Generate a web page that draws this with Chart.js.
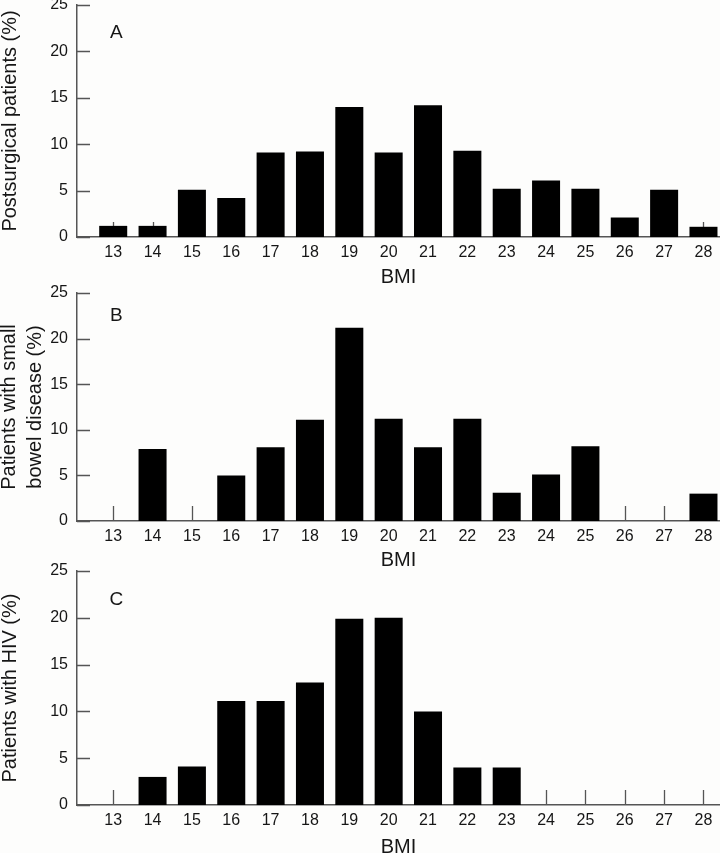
<!doctype html>
<html lang="en">
<head>
    <meta charset="utf-8">
    <script src="https://cdn.jsdelivr.net/npm/chart.js@4.4.1/dist/chart.umd.min.js"></script>
    <title>BMI distribution</title>
</head>
<body>

<canvas id="chartA" width="720" height="300"></canvas>
<canvas id="chartB" width="720" height="293"></canvas>
<canvas id="chartC" width="720" height="300"></canvas>

<script>
    // BMI categories and percentages
    const bmi = [13, 14, 15, 16, 17, 18, 19, 20, 21, 22, 23, 24, 25, 26, 27, 28];
    const postsurgical = [1.2, 1.2, 5.1, 4.2, 9.1, 9.2, 14, 9.1, 14.2, 9.3, 5.2, 6.1, 5.2, 2.1, 5.1, 1.1];
    const smallBowel = [0, 7.9, 0, 5, 8.1, 11.1, 21.2, 11.2, 8.1, 11.2, 3.1, 5.1, 8.2, 0, 0, 3];
    const hiv = [0, 3, 4.1, 11.1, 11.1, 13.1, 19.9, 20, 10, 4, 4, 0, 0, 0, 0, 0];
    const yTicks = [0, 5, 10, 15, 20, 25];

    const FONT = "'Liberation Sans', Arial, Helvetica, sans-serif";
    const AXIS = '#555';
    const TEXT = '#161616';

    // inward tick marks + panel letter
    const panelPlugin = {
        id: 'panel',
        beforeDatasetsDraw(chart, args, opts) {
            const ctx = chart.ctx;
            const x = chart.scales.x, y = chart.scales.y, area = chart.chartArea;
            ctx.save();
            ctx.strokeStyle = AXIS;
            ctx.lineWidth = 1.3;
            ctx.beginPath();
            x.ticks.forEach(t => {
                const px = Math.round(x.getPixelForValue(t.value)) + 0.5;
                ctx.moveTo(px, area.bottom);
                ctx.lineTo(px, area.bottom - 15);
            });
            y.ticks.forEach(t => {
                const py = Math.round(y.getPixelForValue(t.value)) + 0.5;
                ctx.moveTo(area.left, py);
                ctx.lineTo(area.left + 13, py);
            });
            ctx.stroke();
            ctx.restore();
        },
        afterDatasetsDraw(chart, args, opts) {
            const ctx = chart.ctx;
            ctx.save();
            ctx.fillStyle = TEXT;
            ctx.font = '19px ' + FONT;
            ctx.textAlign = 'center';
            ctx.textBaseline = 'middle';
            ctx.fillText(opts.letter, chart.scales.x.getPixelForValue(13.08), chart.scales.y.getPixelForValue(opts.letterY));
            ctx.restore();
        }
    };

    function makeChart(id, values, title, letter, letterY, padTop, xHeight, titleLineHeight, titlePad) {
        return new Chart(document.getElementById(id), {
            type: 'bar',
            data: {
                datasets: [{
                    data: bmi.map((b, i) => ({x: b, y: values[i]})),
                    backgroundColor: '#000',
                    borderWidth: 0,
                    barPercentage: 0.712,
                    categoryPercentage: 1
                }]
            },
            options: {
                responsive: false,
                animation: false,
                events: [],
                layout: {padding: {top: padTop, left: 0, right: 0, bottom: 0}},
                plugins: {
                    legend: {display: false},
                    tooltip: {enabled: false},
                    panel: {letter: letter, letterY: letterY}
                },
                scales: {
                    x: {
                        type: 'linear',
                        offset: false,
                        min: 12.08,
                        max: 28.42,
                        afterBuildTicks: s => { s.ticks = bmi.map(v => ({value: v})); },
                        afterFit: s => { s.height = xHeight; s.paddingLeft = 0; s.paddingRight = 0; },
                        grid: {display: false, drawTicks: false, offset: false},
                        border: {color: AXIS, width: 1.5},
                        ticks: {
                            padding: 6,
                            color: TEXT,
                            font: {family: FONT, size: 16},
                            maxRotation: 0,
                            autoSkip: false
                        },
                        title: {
                            display: true,
                            text: 'BMI',
                            color: TEXT,
                            font: {family: FONT, size: 20, lineHeight: 1.2},
                            padding: {top: 0, bottom: 1}
                        }
                    },
                    y: {
                        min: 0,
                        max: 25,
                        afterBuildTicks: s => { s.ticks = yTicks.map(v => ({value: v})); },
                        afterFit: s => { s.width = 77; s.paddingTop = 0; s.paddingBottom = 0; },
                        grid: {display: false, drawTicks: false},
                        border: {color: AXIS, width: 1.5},
                        ticks: {
                            padding: 9,
                            color: TEXT,
                            font: {family: FONT, size: 16}
                        },
                        title: {
                            display: true,
                            text: title,
                            color: TEXT,
                            font: {family: FONT, size: 20, lineHeight: titleLineHeight},
                            padding: {top: titlePad, bottom: 0}
                        }
                    }
                }
            },
            plugins: [panelPlugin]
        });
    }

    makeChart('chartA', postsurgical, 'Postsurgical patients (%)', 'A', 22.0, 15, 53, 1.0, 0);
    makeChart('chartB', smallBowel, ['Patients with small', 'bowel disease (%)'], 'B', 22.5, 13, 52, 1.27, -3);
    makeChart('chartC', hiv, 'Patients with HIV (%)', 'C', 21.9, 11, 55, 1.0, 0);
</script>
<style>
    body {
        margin: 0;
        width: 720px;
        height: 853px;
        overflow: hidden;
        position: relative;
        background: #fdfdfc;
    }

    canvas {
        position: absolute;
        left: 0;
    }

    #chartA { top: -10px; }
    #chartB { top: 280px; }
    #chartC { top: 560px; }
</style>
</body>
</html>
